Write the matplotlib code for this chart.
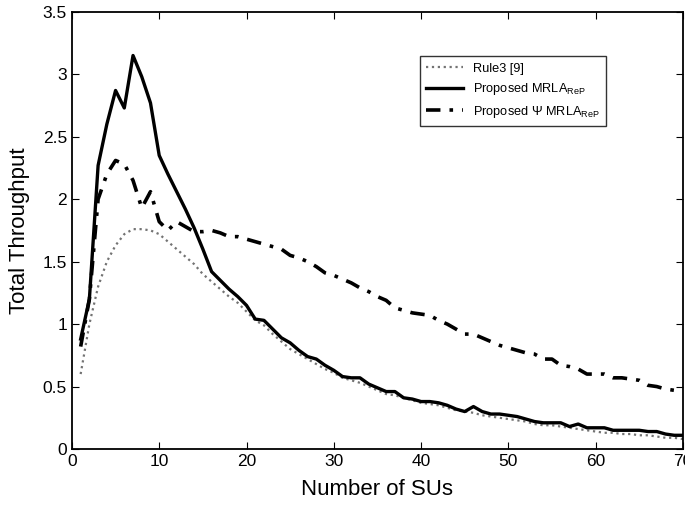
import matplotlib
matplotlib.use('Agg')
import matplotlib.pyplot as plt

plt.rcParams['font.family'] = ['Liberation Sans', 'DejaVu Sans']
plt.rcParams['mathtext.fontset'] = 'custom'
plt.rcParams['mathtext.rm'] = 'Liberation Sans'

# Number of SUs
n_sus = list(range(1, 71))

# Rule3 [9]
rule3 = [0.60, 1.00, 1.30, 1.50, 1.63, 1.72, 1.76, 1.76, 1.75, 1.72,
         1.66, 1.60, 1.54, 1.48, 1.40, 1.34, 1.28, 1.22, 1.17, 1.10,
         1.03, 0.99, 0.92, 0.86, 0.80, 0.76, 0.72, 0.68, 0.64, 0.61,
         0.57, 0.55, 0.53, 0.50, 0.47, 0.44, 0.43, 0.41, 0.39, 0.37,
         0.36, 0.35, 0.33, 0.31, 0.30, 0.29, 0.27, 0.26, 0.25, 0.24,
         0.23, 0.22, 0.20, 0.19, 0.19, 0.18, 0.17, 0.16, 0.15, 0.14,
         0.13, 0.13, 0.12, 0.12, 0.11, 0.11, 0.10, 0.09, 0.09, 0.08]

# Proposed MRLA_ReP
mrla = [0.88, 1.20, 2.27, 2.60, 2.87, 2.73, 3.15, 2.98, 2.77, 2.35,
        2.20, 2.06, 1.92, 1.77, 1.60, 1.42, 1.35, 1.28, 1.22, 1.15,
        1.04, 1.03, 0.96, 0.89, 0.85, 0.79, 0.74, 0.72, 0.67, 0.63,
        0.58, 0.57, 0.57, 0.52, 0.49, 0.46, 0.46, 0.41, 0.40, 0.38,
        0.38, 0.37, 0.35, 0.32, 0.30, 0.34, 0.30, 0.28, 0.28, 0.27,
        0.26, 0.24, 0.22, 0.21, 0.21, 0.21, 0.18, 0.20, 0.17, 0.17,
        0.17, 0.15, 0.15, 0.15, 0.15, 0.14, 0.14, 0.12, 0.11, 0.11]

# Proposed Psi MRLA_ReP
psi_mrla = [0.82, 1.20, 2.00, 2.20, 2.31, 2.28, 2.15, 1.93, 2.06, 1.82,
            1.75, 1.82, 1.78, 1.74, 1.74, 1.75, 1.73, 1.70, 1.70, 1.68,
            1.66, 1.64, 1.62, 1.60, 1.55, 1.53, 1.50, 1.46, 1.41, 1.39,
            1.36, 1.33, 1.29, 1.26, 1.22, 1.19, 1.13, 1.11, 1.09, 1.08,
            1.07, 1.03, 1.00, 0.96, 0.92, 0.92, 0.89, 0.86, 0.83, 0.81,
            0.79, 0.77, 0.76, 0.72, 0.72, 0.67, 0.66, 0.64, 0.60, 0.60,
            0.60, 0.57, 0.57, 0.56, 0.55, 0.51, 0.50, 0.48, 0.47, 0.48]

fig = plt.figure(figsize=(6.85, 5.12), dpi=100)
ax = fig.add_axes([0.105, 0.123, 0.892, 0.854])

ax.plot(n_sus, rule3, color='0.45', linestyle=':', linewidth=1.6,
        label='Rule3 [9]')
ax.plot(n_sus, mrla, color='black', linestyle='-', linewidth=2.4,
        label=r'Proposed MRLA$_{\mathrm{ReP}}$')
ax.plot(n_sus, psi_mrla, color='black', linestyle=(0, (4, 2.5, 1, 2.5)),
        linewidth=2.6, label=r'Proposed $\Psi$ MRLA$_{\mathrm{ReP}}$')

ax.set_xlim(0, 70)
ax.set_ylim(0, 3.5)
ax.set_xticks(range(0, 71, 10))
ax.set_yticks([0, 0.5, 1, 1.5, 2, 2.5, 3, 3.5])
ax.set_yticklabels(['0', '0.5', '1', '1.5', '2', '2.5', '3', '3.5'])
ax.tick_params(direction='in', top=True, right=True, labelsize=12.5, length=5)
for s in ax.spines.values():
    s.set_linewidth(1.3)

ax.set_xlabel('Number of SUs', fontsize=16, labelpad=7)
ax.set_ylabel('Total Throughput', fontsize=16, labelpad=9)

leg = ax.legend(loc='upper left', bbox_to_anchor=(0.569, 0.898), fontsize=9.2,
                frameon=True, fancybox=False, edgecolor='black',
                borderaxespad=0, handlelength=2.9, handletextpad=0.8,
                borderpad=0.5, labelspacing=0.5)
leg.get_frame().set_linewidth(1.0)

fig.savefig('out.png', dpi=100)
